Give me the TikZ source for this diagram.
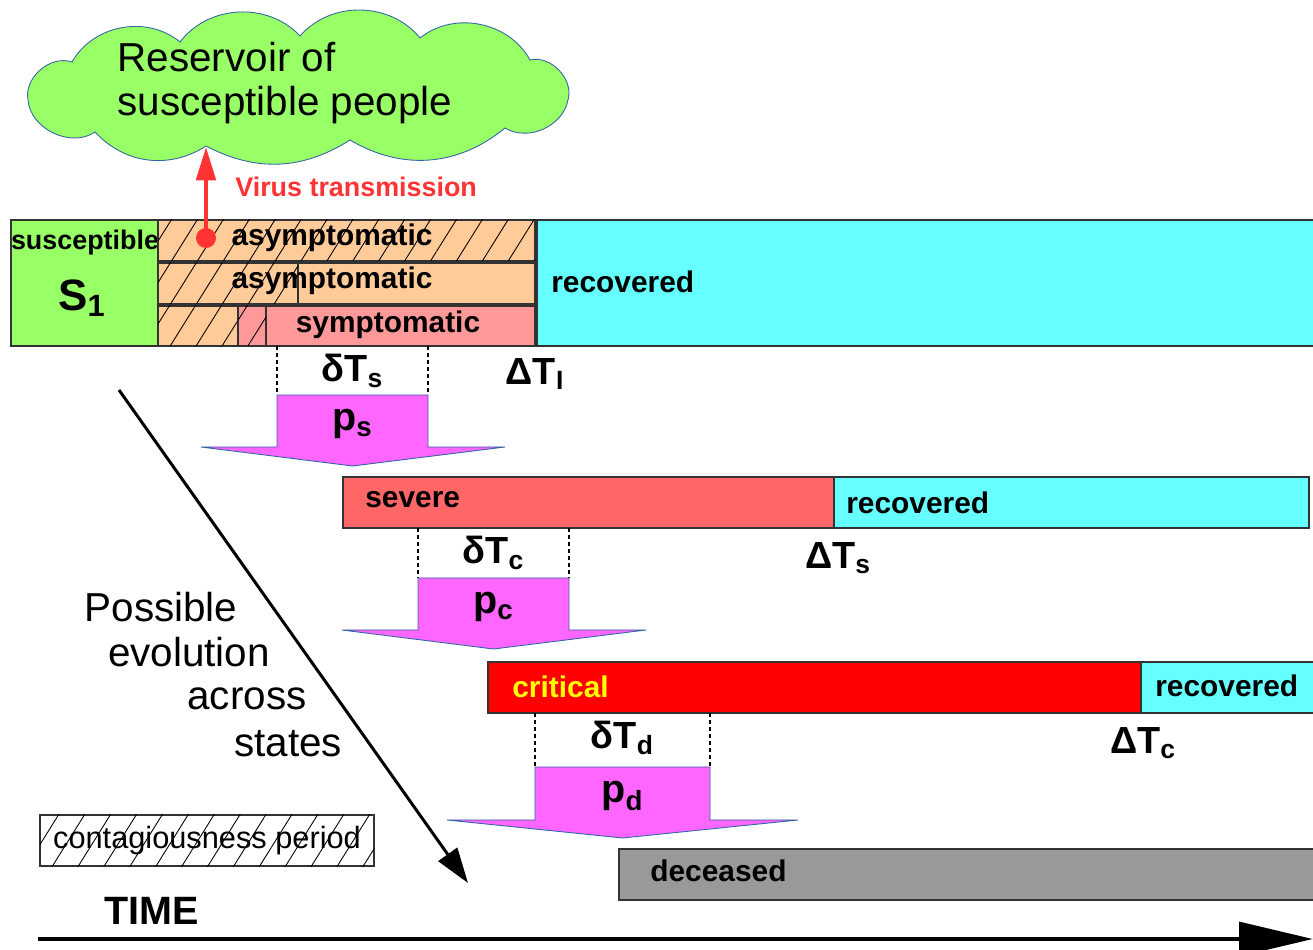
\documentclass[tikz,border=0pt]{standalone}
\usepackage{fontspec}
\setmainfont{Liberation Sans}
\usetikzlibrary{positioning,arrows.meta,patterns.meta}
\definecolor{covGreen}{HTML}{99FF66}
\definecolor{covPeach}{HTML}{FFCC99}
\definecolor{covPink}{HTML}{FF9999}
\definecolor{covCyan}{HTML}{66FFFF}
\definecolor{covSevere}{HTML}{FF6666}
\definecolor{covCritical}{HTML}{FF0000}
\definecolor{covYellow}{HTML}{FFFF00}
\definecolor{covGrey}{HTML}{999999}
\definecolor{covMagenta}{HTML}{FF66FF}
\definecolor{covBlueEdge}{HTML}{3465A4}
\definecolor{covRed}{HTML}{FF3333}
\definecolor{covEdge}{HTML}{333333}
\tikzset{
  bar/.style       = {draw=covEdge, line width=0.6pt, anchor=north west,
                      inner sep=0pt, outer sep=0pt},
  hatch/.style     = {postaction={pattern={Lines[angle=58,distance=12.5pt,line width=0.5pt]}}},
  barlbl/.style    = {font=\fontsize{17}{20}\selectfont\bfseries, inner sep=0pt},
  durlbl/.style    = {font=\fontsize{21.5}{25}\selectfont\bfseries, inner sep=0pt},
  problbl/.style   = {font=\fontsize{22.5}{26}\selectfont\bfseries, inner sep=0pt},
  bigtxt/.style    = {font=\fontsize{23}{25}\selectfont, inner sep=0pt},
  probarrow/.style = {draw=covBlueEdge, line width=0.5pt, fill=covMagenta},
  dotline/.style   = {dash pattern=on 2pt off 2pt, line width=1pt},
  flow/.style      = {-{Triangle[length=20pt,width=13pt]}, line width=1.7pt},
  puffy/.style     = {fill=covGreen, draw=covBlueEdge, line width=0.5pt},
}
\begin{document}
\begin{tikzpicture}[x=0.2mm, y=-0.2mm]
  \useasboundingbox (0,0) rectangle (1313,950);

  % reservoir and transmission
  \draw[puffy] (28,100) to[bend left=60] (72,62) to[bend left=50] (180,42)
    to[bend left=50] (300,36) to[bend left=50] (420,38) to[bend left=50] (530,60)
    to[bend left=60] (568,100) to[bend left=55] (505,128) to[bend left=35] (350,140)
    to[bend left=30] (206,146) to[bend left=40] (95,132) to[bend left=60] (28,100) -- cycle;
  \node[bigtxt, align=left] (reservoirLbl) at (285,83) {Reservoir of\\susceptible people};
  \coordinate (infect) at (206,238);
  \coordinate (reach) at (206,147);

  % first stage
  \node[bar, fill=covGreen, minimum width=29.4mm, minimum height=25.2mm] (susc) at (11,220) {};
  \node[font=\fontsize{15.3}{18}\selectfont\bfseries, inner sep=0pt] (suscLbl) at (85,243) {susceptible};
  \node[font=\fontsize{25}{30}\selectfont\bfseries, inner sep=0pt] (S1) at (82,298) {S\textsubscript{1}};

  \node[bar, fill=covPeach, hatch, minimum width=75.4mm, minimum height=8.2mm] (asym1) at (158,220) {};
  \node[bar, fill=covPeach, minimum width=75.4mm, minimum height=8.2mm] (asym2) at (158,263) {};
  \draw[draw=covEdge, line width=0.6pt, hatch] (158,263) rectangle (298,304);
  \node[bar, fill=covPink, minimum width=75.4mm, minimum height=8mm] (sym) at (158,306) {};
  \draw[draw=covEdge, line width=0.6pt, fill=covPeach, hatch] (158,306) rectangle (238,346);
  \draw[draw=covEdge, line width=0.6pt, hatch] (238,306) rectangle (266,346);
  \node[bar, fill=covCyan, minimum width=155.6mm, minimum height=25.2mm] (recI) at (537,220) {};

  \node[barlbl] (asym1Lbl) at (332,238) {asymptomatic};
  \node[barlbl] (asym2Lbl) at (332,281) {asymptomatic};
  \node[barlbl] (symLbl) at (388,325) {symptomatic};
  \node[barlbl, anchor=west] (recILbl) at (551,282) {recovered};

  \fill[covRed] (infect) circle (2mm);
  \draw[covRed, line width=2.5pt, -{Triangle[length=19pt,width=11pt]}] (infect) -- (reach);
  \node[font=\fontsize{15.3}{18}\selectfont\bfseries, text=covRed, anchor=west, inner sep=0pt]
    (virus) at (235,187) {Virus transmission};

  % later stages
  \node[bar, fill=covSevere, minimum width=98.2mm, minimum height=10.2mm] (severe) at (343,477) {};
  \node[bar, fill=covCyan, minimum width=95mm, minimum height=10.2mm] (recS) at (834,477) {};
  \node[bar, fill=covCritical, minimum width=130.6mm, minimum height=10.2mm] (critical) at (488,662) {};
  \node[bar, fill=covCyan, minimum width=35.4mm, minimum height=10.2mm] (recC) at (1141,662) {};
  \node[bar, fill=covGrey, minimum width=139.4mm, minimum height=10.2mm] (deceased) at (619,849) {};

  \node[barlbl, anchor=west] (severeLbl) at (365,500) {severe};
  \node[barlbl, anchor=west] (recSLbl) at (846,503) {recovered};
  \node[barlbl, anchor=west, text=covYellow] (criticalLbl) at (512,687) {critical};
  \node[barlbl, anchor=west] (recCLbl) at (1155,686) {recovered};
  \node[barlbl, anchor=west] (deceasedLbl) at (650,871) {deceased};

  \node[durlbl] (DTI) at (535,374) {ΔT\textsubscript{I}};
  \node[durlbl] (DTs) at (838,558) {ΔT\textsubscript{s}};
  \node[durlbl] (DTc) at (1143,743) {ΔT\textsubscript{c}};

  % transition probabilities
  \foreach \l/\r/\t/\b/\hl/\hr/\tip/\up/\sub in
      {277/428/395/447/201/505/466/346/s,
       418/569/578/630/342/646/649/528/c,
       535/710/767/820/447/798/838/713/d}{
    \draw[dotline] (\l,\up) -- (\l,\t);
    \draw[dotline] (\r,\up) -- (\r,\t);
    \filldraw[probarrow] (\l,\t) -- (\r,\t) -- (\r,\b) -- (\hr,\b)
      -- ({(\l+\r)/2},\tip) -- (\hl,\b) -- (\l,\b) -- cycle;
    \node[durlbl] (dT\sub) at ({(\l+\r)/2},{\up+25}) {δT\textsubscript{\sub}};
    \node[problbl] (p\sub) at ({(\l+\r)/2},{\t+29}) {p\textsubscript{\sub}};
  }

  % evolution arrow
  \coordinate (evoStart) at (119,390);
  \coordinate (evoEnd) at (468,883);
  \draw[flow] (evoStart) -- (evoEnd);
  \node[bigtxt] (evo1) at (161,607) {Possible};
  \node[bigtxt] (evo2) at (189,652) {evolution};
  \node[bigtxt] (evo3) at (247,699) {across};
  \node[bigtxt] (evo4) at (288,744) {states};

  % legend and time axis
  \node[bar, hatch, minimum width=66.8mm, minimum height=10.2mm,
        font=\fontsize{17.5}{20}\selectfont] (legend) at (40,815) {contagiousness period};
  \node[font=\fontsize{22.5}{26}\selectfont\bfseries, inner sep=0pt] (time) at (152,911) {TIME};
  \coordinate (tStart) at (38,939);
  \coordinate (tEnd) at (1313,939);
  \draw[line width=2.8pt, -{Triangle[length=42pt,width=19pt]}] (tStart) -- (tEnd);
\end{tikzpicture}
\end{document}
